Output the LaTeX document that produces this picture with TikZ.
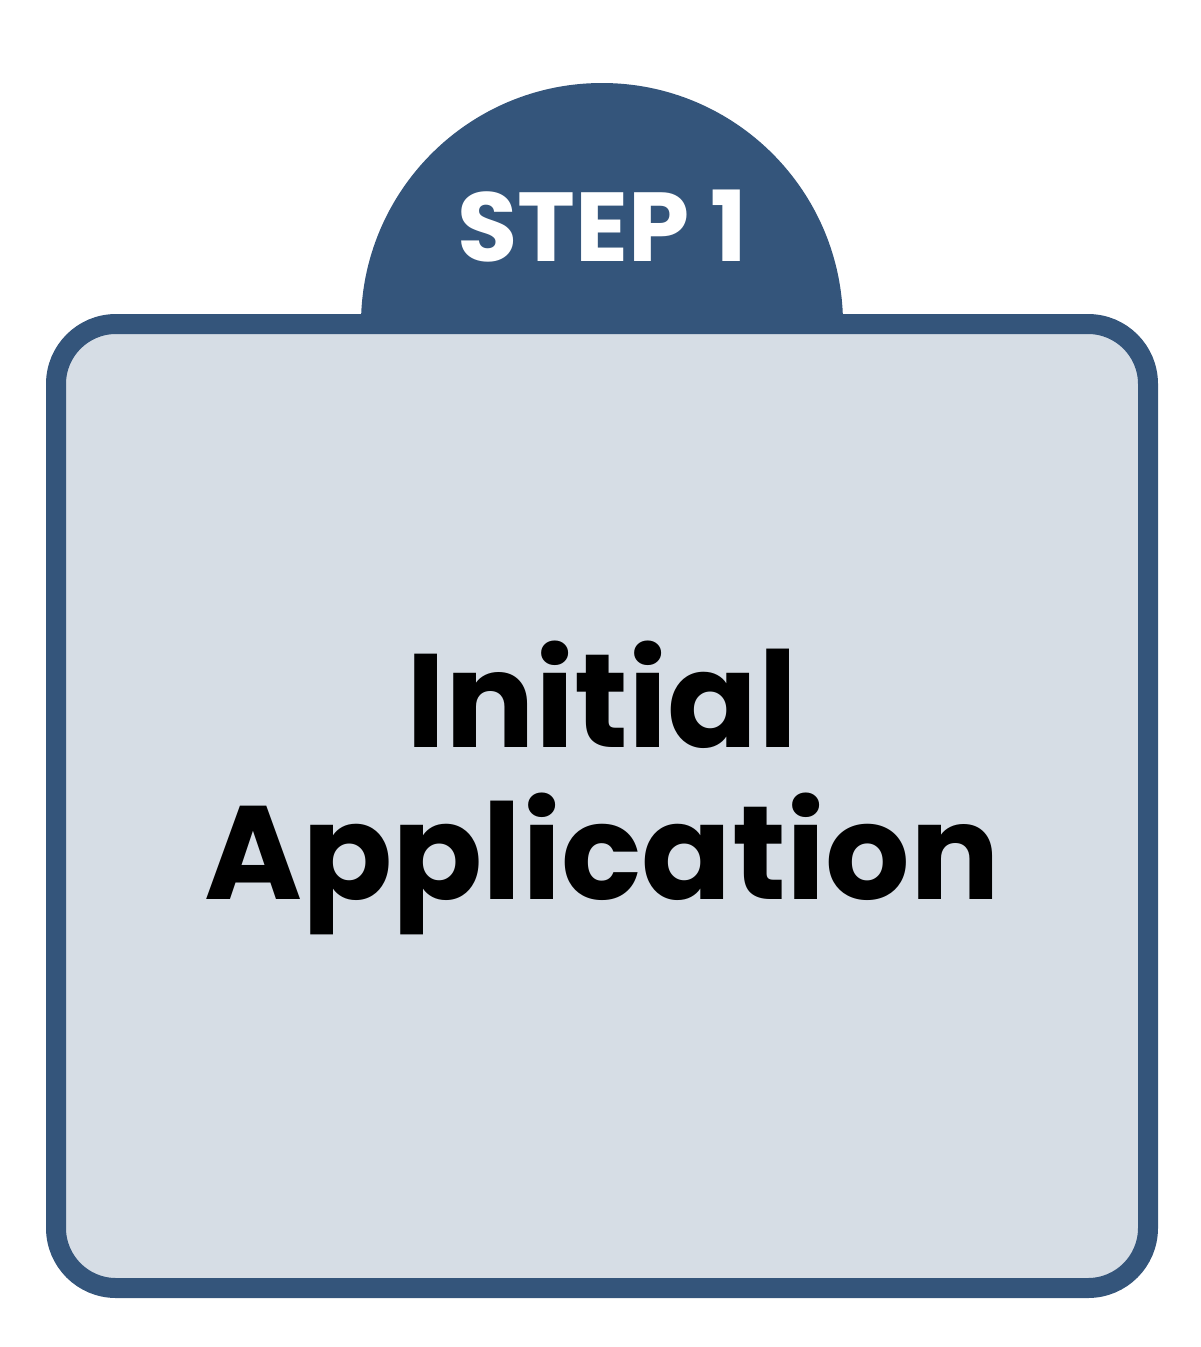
\documentclass[tikz,border=0pt]{standalone}
\usepackage{fontspec}
\setmainfont{Poppins}
\definecolor{navy}{HTML}{34557B}
\definecolor{pale}{HTML}{D6DDE5}
\begin{document}
\begin{tikzpicture}[x=1pt,y=-1pt,
  boxstyle/.style={fill=pale,draw=navy,line width=20pt,rounded corners=60pt}]
\useasboundingbox (0,0) rectangle (1200,1347);
\fill[navy] (361,324) arc[start angle=180,end angle=360,radius=241] -- cycle;
\draw[boxstyle] (56,324) rectangle (1148,1288);
\node[text=white,font=\bfseries\fontsize{98}{110}\selectfont] (step) at (602,226) {STEP 1};
\node[align=center,font=\bfseries\fontsize{133}{152}\selectfont] (title) at (602,788) {Initial\\Application};
\end{tikzpicture}
\end{document}
